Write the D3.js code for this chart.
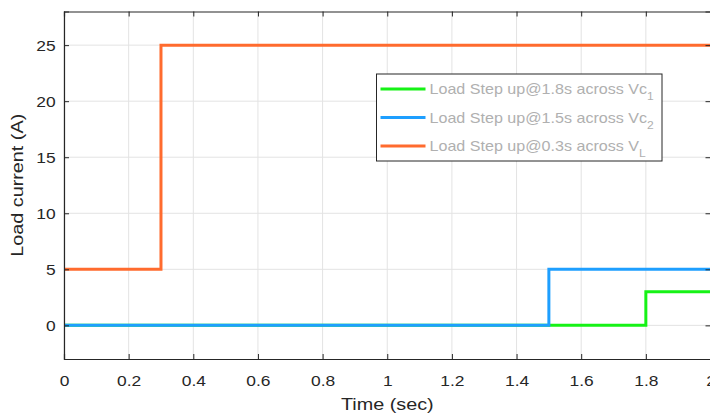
<!DOCTYPE html>
<html>
<head>
<meta charset="utf-8">
<script src="https://cdn.jsdelivr.net/npm/d3@7"></script>
<style>
  body { margin: 0; background: #fff; }
  svg { display: block; font-family: "Liberation Sans", Arial, sans-serif; }
</style>
</head>
<body>
<svg id="chart"></svg>
<script>
// step data: [time, current]
const timeVc1 = [0, 1.8, 1.8, 2];
const currentVc1 = [0, 0, 3, 3];
const timeVc2 = [0, 1.5, 1.5, 2];
const currentVc2 = [0, 0, 5, 5];
const timeVL = [0, 0.3, 0.3, 2];
const currentVL = [5, 5, 25, 25];

const xTicks = [0, 0.2, 0.4, 0.6, 0.8, 1, 1.2, 1.4, 1.6, 1.8, 2];
const yTicks = [0, 5, 10, 15, 20, 25];

const seriesNames = ['Vc', 'Vc', 'V'];
const seriesSubs = ['1', '2', 'L'];
const stepTimes = ['1.8', '1.5', '0.3'];
const colors = ['#16f216', '#1e9fff', '#ff6b2e'];

const width = 710, height = 416;
const margin = { top: 11.5, right: -0.5, bottom: 57, left: 64 };
const w = width - margin.left - margin.right;
const h = height - margin.top - margin.bottom;
const stretch = 1.2; // reference text is a bit wide

const svg = d3.select('#chart').attr('width', width).attr('height', height);
const g = svg.append('g').attr('transform', `translate(${margin.left},${margin.top})`);

const x = d3.scaleLinear().domain([0, 2]).range([0, w]);
const y = d3.scaleLinear().domain([-3, 28]).range([h, 0]);

// grid
g.append('g').selectAll('line').data(xTicks).enter().append('line')
  .attr('x1', d => x(d)).attr('x2', d => x(d)).attr('y1', 0).attr('y2', h)
  .attr('stroke', '#e3e3e3').attr('stroke-width', 1);
g.append('g').selectAll('line').data(yTicks).enter().append('line')
  .attr('x1', 0).attr('x2', w).attr('y1', d => y(d)).attr('y2', d => y(d))
  .attr('stroke', '#e3e3e3').attr('stroke-width', 1);

// lines
const series = [
  { t: timeVc1, v: currentVc1 },
  { t: timeVc2, v: currentVc2 },
  { t: timeVL, v: currentVL }
];
const line = d3.line().x(d => x(d[0])).y(d => y(d[1]));
series.forEach((s, i) => {
  g.append('path')
    .datum(s.t.map((t, k) => [t, s.v[k]]))
    .attr('d', line)
    .attr('fill', 'none')
    .attr('stroke', colors[i])
    .attr('stroke-width', 3);
});

// axes (ticks pointing inward, matlab style)
g.append('g').attr('class', 'xaxis').attr('transform', `translate(0,${h})`)
  .call(d3.axisBottom(x).tickValues(xTicks).tickSize(-5).tickPadding(17).tickFormat(d3.format('')));
g.append('g').attr('class', 'yaxis')
  .call(d3.axisLeft(y).tickValues(yTicks).tickSize(-5).tickPadding(7));
g.append('g').call(d3.axisTop(x).tickValues(xTicks).tickSize(-5).tickFormat(''));
g.append('g').attr('transform', `translate(${w},0)`)
  .call(d3.axisRight(y).tickValues(yTicks).tickSize(-5).tickFormat(''));

svg.selectAll('.domain').attr('stroke', '#262626').attr('stroke-width', 1.2);
svg.selectAll('.tick line').attr('stroke', '#262626');
svg.selectAll('.tick text').attr('fill', '#262626').attr('font-size', '14.5px')
  .attr('font-family', '"Liberation Sans", Arial, sans-serif')
  .attr('transform', `scale(${stretch},1)`);
svg.selectAll('.yaxis .tick text').attr('dy', '0.36em');

// axis labels
g.append('text')
  .attr('transform', `translate(${x(1)},${h + 51}) scale(${stretch},1)`)
  .attr('text-anchor', 'middle').attr('fill', '#262626').attr('font-size', '16.5px')
  .text('Time (sec)');
g.append('text')
  .attr('transform', `translate(-41,${y(12.5)}) rotate(-90) scale(${stretch},1)`)
  .attr('text-anchor', 'middle').attr('fill', '#262626').attr('font-size', '16.5px')
  .text('Load current (A)');

// legend
const lg = svg.append('g').attr('transform', 'translate(376.5,74)');
lg.append('rect').attr('width', 285.5).attr('height', 87)
  .attr('fill', '#fff').attr('stroke', '#262626').attr('stroke-width', 1);
const rowY = [15, 43.5, 72];
seriesNames.forEach((name, i) => {
  lg.append('line').attr('x1', 4).attr('x2', 49).attr('y1', rowY[i]).attr('y2', rowY[i])
    .attr('stroke', colors[i]).attr('stroke-width', 3);
  const txt = lg.append('text')
    .attr('transform', `translate(53,${rowY[i] + 5}) scale(1.15,1)`)
    .attr('fill', '#b0b0b0').attr('font-size', '14px');
  txt.append('tspan').text(`Load Step up@${stepTimes[i]}s across ${name}`);
  txt.append('tspan').attr('dy', 6).attr('font-size', '10.5px').text(seriesSubs[i]);
});
</script>
</body>
</html>
